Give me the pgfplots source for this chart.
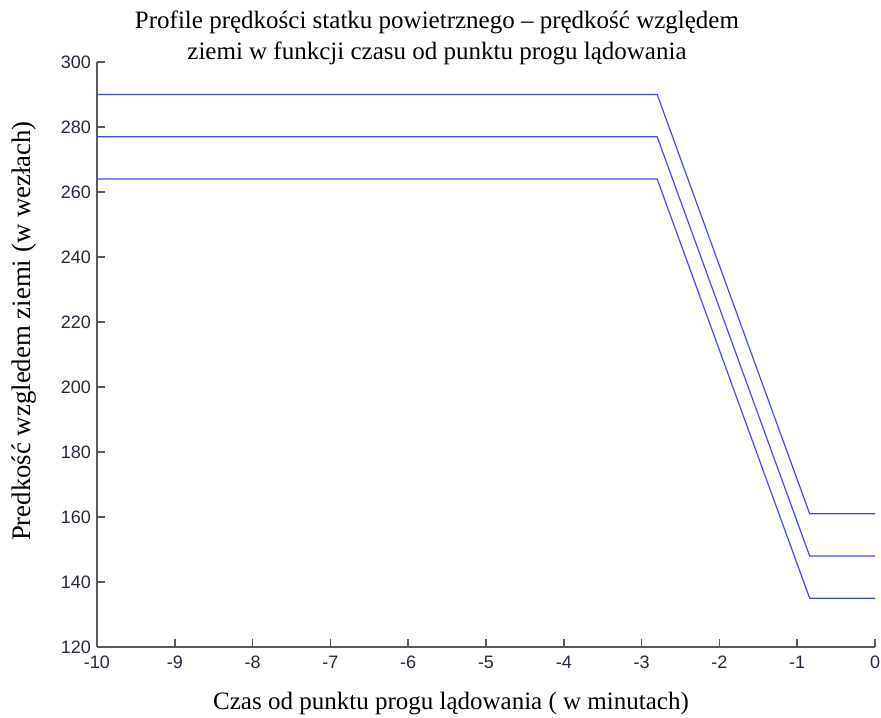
\documentclass[border=0pt]{standalone}
\usepackage{pgfplots}
\pgfplotsset{compat=1.18}
\usepackage{fontspec}
\setmainfont{Liberation Serif}
\newfontfamily\arial{Liberation Sans}
\definecolor{lineblue}{RGB}{70,70,255}
\definecolor{axgray}{RGB}{90,90,90}
\definecolor{ticktext}{RGB}{40,40,60}
\begin{document}
\begin{tikzpicture}
\begin{axis}[
  at={(0,0)}, anchor=south west,
  scale only axis, width=389pt, height=292.5pt,
  xmin=-10, xmax=0, ymin=120, ymax=300,
  xtick={-10,-9,...,0}, ytick={120,140,...,300},
  axis x line*=bottom, axis y line*=left,
  axis line style={axgray, line width=0.8pt, -},
  tick style={axgray, line width=0.8pt},
  tick align=inside, major tick length=4pt,
  /pgf/number format/assume math mode=true,
  ticklabel style={font=\arial\fontsize{9}{10}\selectfont, text=ticktext},
  xticklabel style={yshift=-1pt},
  yticklabel style={xshift=0.5pt},
  title style={at={(rel axis cs:0.437,1)}, anchor=south, inner sep=0pt, yshift=-7.6pt, align=center, font=\fontsize{12.5}{15.5}\selectfont},
  title={Profile prędkości statku powietrznego – prędkość względem\\ziemi w funkcji czasu od punktu progu lądowania},
  xlabel style={at={(rel axis cs:0.455,0)}, anchor=base, inner sep=0pt, yshift=-31pt, font=\fontsize{12.5}{14}\selectfont},
  xlabel={Czas od punktu progu lądowania ( w minutach)},
  ylabel style={at={(rel axis cs:0,0.54)}, anchor=center, inner sep=0pt, yshift=36.5pt, font=\fontsize{13.4}{15}\selectfont},
  ylabel={Predkość wzgledem ziemi (w wezłach)},
  clip=false,
]
\addplot[lineblue, line width=0.6pt] coordinates {(-10,290) (-2.80,290) (-0.84,161) (0,161)};
\addplot[lineblue, line width=0.6pt] coordinates {(-10,277) (-2.80,277) (-0.84,148) (0,148)};
\addplot[lineblue, line width=0.6pt] coordinates {(-10,264) (-2.80,264) (-0.84,135) (0,135)};
\end{axis}
\pgfresetboundingbox
\path[use as bounding box] (-48.5pt,-35pt) rectangle (392pt,323.5pt);
\end{tikzpicture}
\end{document}
